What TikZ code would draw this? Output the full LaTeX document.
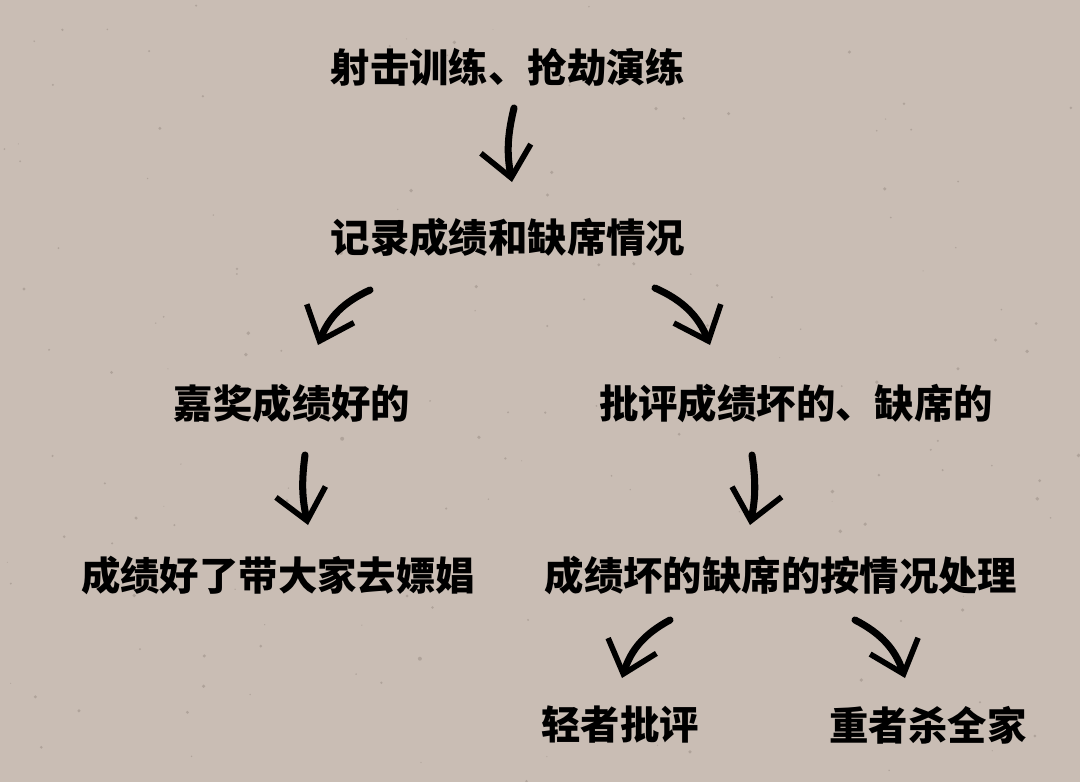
\documentclass[tikz,border=0pt]{standalone}
\usepackage{fontspec}
\newfontfamily\cjk{Noto Sans CJK SC Black}
\usetikzlibrary{arrows.meta}
\definecolor{paper}{RGB}{201,189,180}
\definecolor{speck}{RGB}{150,138,130}
\tikzstyle{every node}=[font=\cjk\fontsize{28}{34}\selectfont,inner sep=0pt]
\tikzstyle{brush}=[draw=black,line width=5pt,line cap=round,-{Straight Barb[length=21pt,width=36pt,line width=4pt]}]

\begin{document}
\begin{tikzpicture}[x=0.025cm,y=-0.025cm]
  \fill[paper] (0,0) rectangle (1080,782);
  \useasboundingbox (0,0) rectangle (1080,782);
  \pgfmathsetseed{7}
  \foreach \i in {1,...,160}
    \fill[speck,opacity=0.5] (rnd*1080,rnd*782) circle (rnd*1.6+0.4);

  \node (train) at (508,67)  {射击训练、抢劫演练};
  \node (rec)   at (508,237) {记录成绩和缺席情况};
  \node (praise) at (292,403) {嘉奖成绩好的};
  \node (crit)  at (796,403) {批评成绩坏的、缺席的};
  \node (good)  at (278,575) {成绩好了带大家去嫖娼};
  \node (bad)   at (781,575) {成绩坏的缺席的按情况处理};
  \node (light) at (620,725) {轻者批评};
  \node (heavy) at (928,725) {重者杀全家};

  \draw[brush] ([shift={(6,41)}]train.center) to[bend right=12] ([shift={(4,-55)}]rec.center);
  \draw[brush] ([shift={(-138,53)}]rec.center) to[bend right=22] ([shift={(26,-58)}]praise.center);
  \draw[brush] ([shift={(147,51)}]rec.center) to[bend left=22] ([shift={(-86,-58)}]crit.center);
  \draw[brush] ([shift={(13,52)}]praise.center) to[bend right=10] ([shift={(30,-50)}]good.center);
  \draw[brush] ([shift={(-44,52)}]crit.center) to[bend left=10] ([shift={(-31,-50)}]bad.center);
  \draw[brush] ([shift={(-111,45)}]bad.center) to[bend right=22] ([shift={(2,-47)}]light.center);
  \draw[brush] ([shift={(74,45)}]bad.center) to[bend left=22] ([shift={(-23,-47)}]heavy.center);
\end{tikzpicture}
\end{document}
